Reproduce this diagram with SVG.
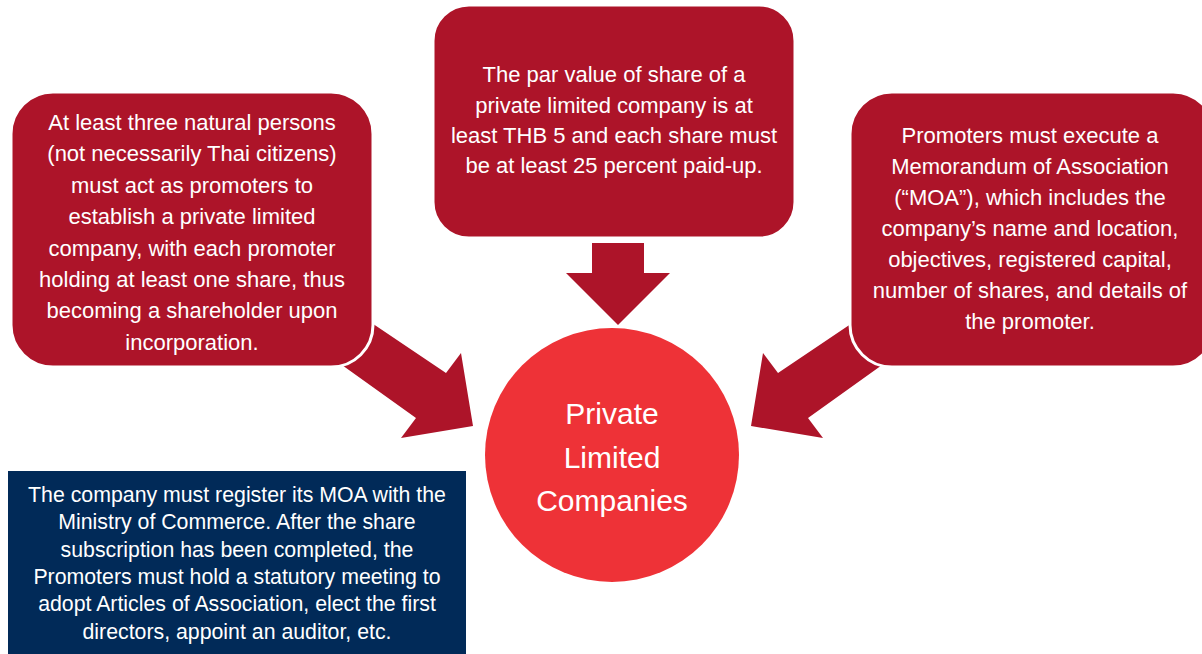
<svg xmlns="http://www.w3.org/2000/svg" width="1202" height="654" viewBox="0 0 1202 654">
<style>
.box{fill:#AD1429;stroke:#fff;stroke-width:3}
.arrow{fill:#AD1429}
.t{font-family:"Liberation Sans",Arial,sans-serif;font-size:22px;fill:#fff;text-anchor:middle}
.nb{font-family:"Liberation Sans",Arial,sans-serif;font-size:21.3px;fill:#fff;text-anchor:middle}
.ct{font-family:"Liberation Sans",Arial,sans-serif;font-size:30px;fill:#fff;text-anchor:middle}
</style>
<rect width="1202" height="654" fill="#fff"/>
<g id="connectors">
<polygon class="arrow" points="345,305 446,373 461,353 473,426 401,438 416,418 314,345"/>
<polygon class="arrow" points="879,305 778,373 763,353 751,426 823,438 808,418 910,345"/>
<polygon class="arrow" points="592,243 644,243 644,273 670,273 618,325 566,273 592,273"/>
</g>
<g id="node-left">
<rect class="box" x="11" y="92" width="362" height="275" rx="42"/>
<text class="t"><tspan x="192" y="130">At least three natural persons</tspan><tspan x="192" y="161.4">(not necessarily Thai citizens)</tspan><tspan x="192" y="192.8">must act as promoters to</tspan><tspan x="192" y="224.2">establish a private limited</tspan><tspan x="192" y="255.6">company, with each promoter</tspan><tspan x="192" y="287">holding at least one share, thus</tspan><tspan x="192" y="318.4">becoming a shareholder upon</tspan><tspan x="192" y="349.8">incorporation.</tspan></text>
</g>
<g id="node-top">
<rect class="box" x="433" y="5" width="362" height="233" rx="36"/>
<text class="t"><tspan x="614" y="82">The par value of share of a</tspan><tspan x="614" y="112.5">private limited company is at</tspan><tspan x="614" y="143">least THB 5 and each share must</tspan><tspan x="614" y="173">be at least 25 percent paid-up.</tspan></text>
</g>
<g id="node-right">
<rect class="box" x="850" y="92" width="365" height="275" rx="42"/>
<text class="t"><tspan x="1030" y="143">Promoters must execute a</tspan><tspan x="1030" y="174">Memorandum of Association</tspan><tspan x="1030" y="205">(“MOA”), which includes the</tspan><tspan x="1030" y="236">company’s name and location,</tspan><tspan x="1030" y="267">objectives, registered capital,</tspan><tspan x="1030" y="298">number of shares, and details of</tspan><tspan x="1030" y="329">the promoter.</tspan></text>
</g>
<g id="node-center">
<circle cx="612" cy="455" r="127" fill="#EE3237"/>
<text class="ct"><tspan x="612" y="424">Private</tspan><tspan x="612" y="468">Limited</tspan><tspan x="612" y="511">Companies</tspan></text>
</g>
<g id="node-bottom">
<rect x="8" y="471" width="458" height="183" fill="#012A58"/>
<text class="nb"><tspan x="237" y="502">The company must register its MOA with the</tspan><tspan x="237" y="529.3">Ministry of Commerce. After the share</tspan><tspan x="237" y="556.6">subscription has been completed, the</tspan><tspan x="237" y="584">Promoters must hold a statutory meeting to</tspan><tspan x="237" y="611.2">adopt Articles of Association, elect the first</tspan><tspan x="237" y="638.5">directors, appoint an auditor, etc.</tspan></text>
</g>
</svg>
